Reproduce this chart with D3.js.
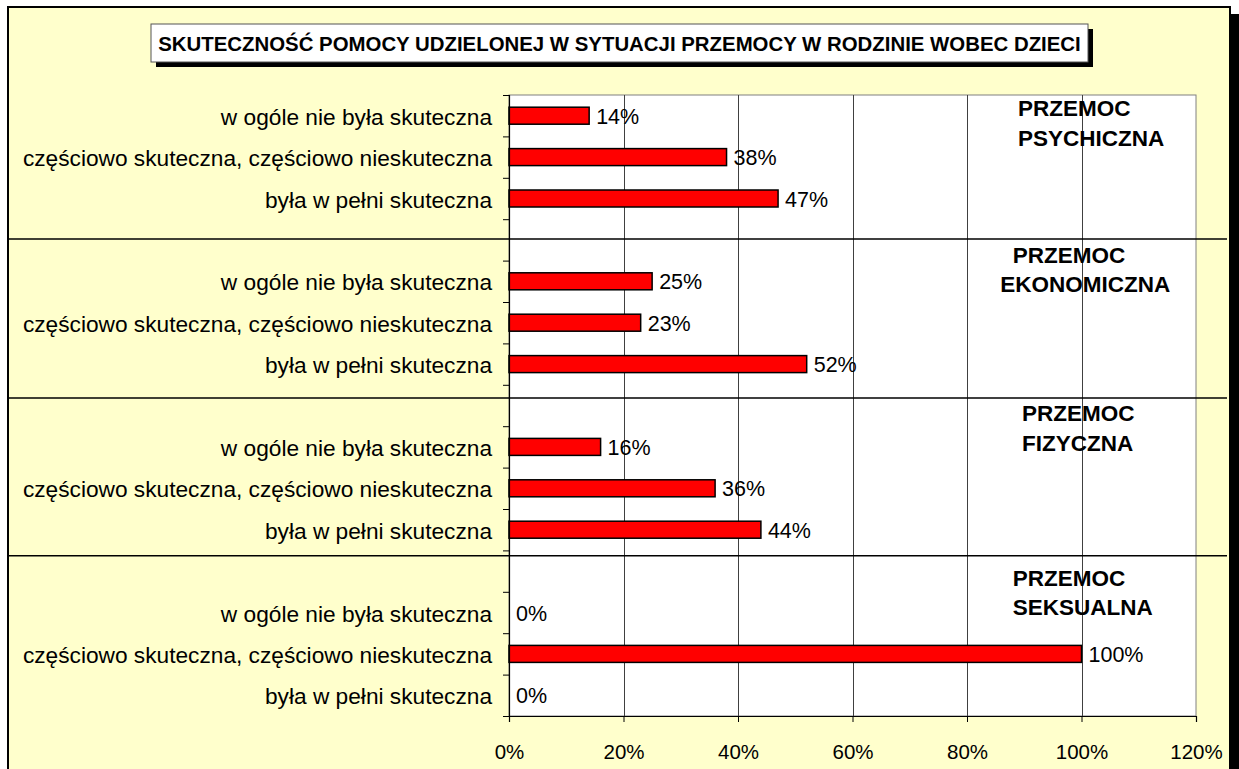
<!DOCTYPE html>
<html>
<head>
<meta charset="utf-8">
<script src="https://cdn.jsdelivr.net/npm/d3@7"></script>
<style>
html,body{margin:0;padding:0;background:#fff;}
svg text{font-family:"Liberation Sans",Arial,sans-serif;}
</style>
</head>
<body>
<svg id="chart" width="1239" height="769"></svg>
<script>
// ---- data ----
const title = "SKUTECZNOŚĆ POMOCY UDZIELONEJ W SYTUACJI PRZEMOCY W RODZINIE WOBEC DZIECI";
const groupNames = [["PRZEMOC","PSYCHICZNA"],["PRZEMOC","EKONOMICZNA"],["PRZEMOC","FIZYCZNA"],["PRZEMOC","SEKSUALNA"]];
const answers = ["w ogóle nie była skuteczna","częściowo skuteczna, częściowo nieskuteczna","była w pełni skuteczna"];
const psychiczna = [14, 38, 47];
const ekonomiczna = [25, 23, 52];
const fizyczna = [16, 36, 44];
const seksualna = [0, 100, 0];
const xTicks = [0, 20, 40, 60, 80, 100, 120];
const seriesByGroup = [psychiczna, ekonomiczna, fizyczna, seksualna];

// ---- layout ----
const W = 1239, H = 769;
const plot = {left: 509, right: 1196, top: 95, bottom: 716};
const svg = d3.select("#chart");

// build slots: 3 answers per group + a blank slot between groups
const slots = [];
seriesByGroup.forEach((vals, g) => {
  vals.forEach((v, i) => slots.push({key: g + "-" + i, label: answers[i], value: v, group: g}));
  if (g < seriesByGroup.length - 1) slots.push({key: "gap" + g, label: "", value: null, group: g});
});

const x = d3.scaleLinear().domain([0, 120]).range([plot.left, plot.right]);
const y = d3.scaleBand().domain(slots.map(d => d.key)).range([plot.top, plot.bottom]).padding(0);
const slotLin = d3.scaleLinear().domain([0, slots.length]).range([plot.top, plot.bottom]);

// chart area (shadow + background)
svg.append("rect").attr("x", 15).attr("y", 14).attr("width", W).attr("height", H).attr("fill", "#000");
svg.append("rect").attr("x", 8).attr("y", 7).attr("width", 1222).attr("height", H)
  .attr("fill", "#FFFFCC").attr("stroke", "#000").attr("stroke-width", 2);

// plot area
svg.append("rect").attr("x", plot.left).attr("y", plot.top)
  .attr("width", plot.right - plot.left).attr("height", plot.bottom - plot.top)
  .attr("fill", "#fff").attr("stroke", "#808080").attr("stroke-width", 1);

// gridlines
svg.append("g").selectAll("line").data(xTicks.filter(t => t > 0 && t < 120)).join("line")
  .attr("x1", d => Math.round(x(d)) + 0.5).attr("x2", d => Math.round(x(d)) + 0.5)
  .attr("y1", plot.top).attr("y2", plot.bottom)
  .attr("stroke", "#404040").attr("stroke-width", 1);

// group separators (drawn in slot units)
const separatorSlots = [3.48, 7.32, 11.13];
svg.append("g").selectAll("line").data(separatorSlots).join("line")
  .attr("x1", 8).attr("x2", 1227)
  .attr("y1", d => slotLin(d)).attr("y2", d => slotLin(d))
  .attr("stroke", "#000").attr("stroke-width", 1.5);

// bars
const barH = 17;
svg.append("g").selectAll("rect").data(slots.filter(d => d.value !== null)).join("rect")
  .attr("x", x(0))
  .attr("y", d => y(d.key) + y.bandwidth() / 2 - barH / 2)
  .attr("width", d => x(d.value) - x(0))
  .attr("height", barH)
  .attr("fill", "#FF0000")
  .attr("stroke", d => d.value > 0 ? "#000" : "none")
  .attr("stroke-width", 1.5);

// value labels
svg.append("g").selectAll("text").data(slots.filter(d => d.value !== null)).join("text")
  .attr("x", d => x(d.value) + 7)
  .attr("y", d => y(d.key) + y.bandwidth() / 2 + 1)
  .attr("dominant-baseline", "central")
  .attr("font-size", 21.5)
  .attr("fill", "#000")
  .text(d => d.value + "%");

// category labels
svg.append("g").selectAll("text").data(slots.filter(d => d.label)).join("text")
  .attr("x", plot.left - 17)
  .attr("y", d => y(d.key) + y.bandwidth() / 2 + 1)
  .attr("text-anchor", "end")
  .attr("dominant-baseline", "central")
  .attr("font-size", 22.7)
  .attr("fill", "#000")
  .text(d => d.label);

// y axis (ticks at slot boundaries)
const yAxis = svg.append("g").attr("transform", `translate(${plot.left},0)`)
  .call(d3.axisLeft(slotLin).tickValues(d3.range(slots.length + 1)).tickSize(6).tickFormat(""));
yAxis.select(".domain").attr("stroke", "#000").attr("stroke-width", 1.2);
yAxis.selectAll(".tick line").attr("stroke", "#000");

// x axis
const xAxis = svg.append("g").attr("transform", `translate(0,${plot.bottom})`)
  .call(d3.axisBottom(x).tickValues(xTicks).tickFormat(d => d + "%").tickSize(6).tickPadding(22));
xAxis.select(".domain").attr("stroke", "#000").attr("stroke-width", 1.2);
xAxis.selectAll(".tick line").attr("stroke", "#000");
xAxis.selectAll(".tick text").attr("font-size", 20.5).attr("fill", "#000")
  .attr("font-family", "Liberation Sans, Arial, sans-serif");

// group labels (annotation text boxes)
const groupLabelPos = [
  {x: 88.9, y: 0.33, x1: 88.9},
  {x: 88.0, y: 3.87, x1: 85.8},
  {x: 89.6, y: 7.7, x1: 89.6},
  {x: 88.0, y: 11.67, x1: 88.0}
];
const gl = svg.append("g");
groupNames.forEach((lines, i) => {
  const p = groupLabelPos[i];
  lines.forEach((ln, j) => {
    gl.append("text")
      .attr("x", x(j === 0 ? p.x : p.x1))
      .attr("y", slotLin(p.y) + j * 29.5)
      .attr("dominant-baseline", "central")
      .attr("font-size", 22.5)
      .attr("font-weight", "bold")
      .attr("fill", "#000")
      .text(ln);
  });
});

// title box
const tb = {x: 151, y: 24, w: 937, h: 38};
svg.append("rect").attr("x", tb.x + 5).attr("y", tb.y + 5).attr("width", tb.w).attr("height", tb.h).attr("fill", "#000");
svg.append("rect").attr("x", tb.x).attr("y", tb.y).attr("width", tb.w).attr("height", tb.h)
  .attr("fill", "#fff").attr("stroke", "#555").attr("stroke-width", 1);
svg.append("text").attr("x", tb.x + tb.w / 2).attr("y", tb.y + tb.h / 2 + 1)
  .attr("text-anchor", "middle").attr("dominant-baseline", "central")
  .attr("font-size", 20.4).attr("font-weight", "bold").attr("fill", "#000")
  .text(title);
</script>
</body>
</html>
